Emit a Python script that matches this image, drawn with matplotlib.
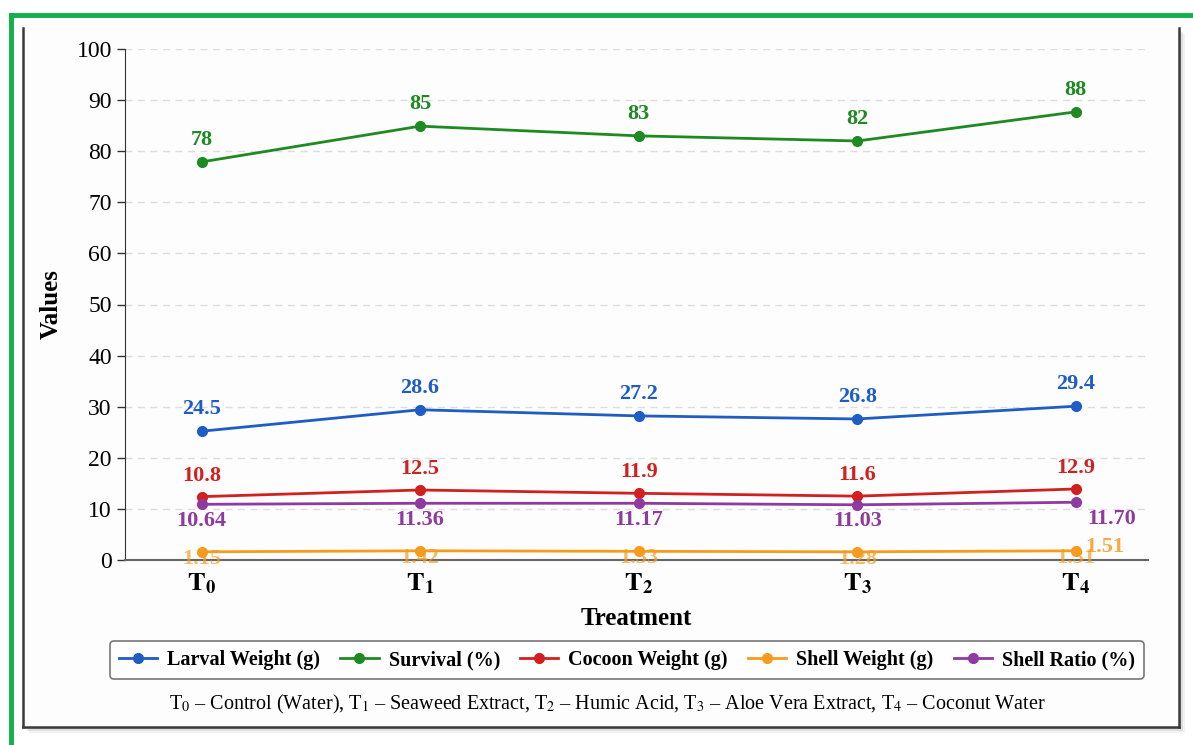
import matplotlib
matplotlib.use("Agg")
import matplotlib.pyplot as plt
from matplotlib.patches import Rectangle
from matplotlib.lines import Line2D
import numpy as np

plt.rcParams['font.family'] = ['Liberation Serif', 'DejaVu Serif']
plt.rcParams['mathtext.fontset'] = 'stix'

treatments = [r'$\mathbf{T}_\mathbf{0}$', r'$\mathbf{T}_\mathbf{1}$', r'$\mathbf{T}_\mathbf{2}$',
              r'$\mathbf{T}_\mathbf{3}$', r'$\mathbf{T}_\mathbf{4}$']

larval = [25.2, 29.4, 28.2, 27.6, 30.1]
survival = [77.9, 84.9, 83.0, 82.0, 87.7]
cocoon = [12.4, 13.7, 13.05, 12.5, 13.9]
shell_w = [1.6, 1.8, 1.7, 1.6, 1.8]
shell_r = [10.9, 11.1, 11.1, 10.8, 11.3]

larval_lbl = ['24.5', '28.6', '27.2', '26.8', '29.4']
survival_lbl = ['78', '85', '83', '82', '88']
cocoon_lbl = ['10.8', '12.5', '11.9', '11.6', '12.9']
shell_w_lbl = ['1.15', '1.42', '1.33', '1.28', '1.31']
shell_r_lbl = ['10.64', '11.36', '11.17', '11.03', '11.70']

series_names = ['Larval Weight (g)', 'Survival (%)', 'Cocoon Weight (g)', 'Shell Weight (g)', 'Shell Ratio (%)']
colors = ['#1f5cc4', '#1e8a22', '#d21f1f', '#f59c1e', '#8e3a9e']

W, H = 1193, 745
fig = plt.figure(figsize=(W / 100, H / 100), dpi=100)
fig.patch.set_facecolor('white')

def fx(px):
    return px / W

def fy(py):
    return 1 - py / H

# card shadow
for i, a in enumerate([0.05, 0.08, 0.12]):
    off = (6 - 2 * i)
    fig.patches.append(Rectangle((fx(23 + off), fy(727 + off)), (1179 - 23) / W, (727 - 28) / H,
                                 transform=fig.transFigure, facecolor='black', alpha=a,
                                 edgecolor='none', zorder=0.1))
fig.patches.append(Rectangle((fx(23), fy(727)), (1179 - 23) / W, (727 - 28) / H,
                             transform=fig.transFigure, facecolor='#fdfdfd',
                             edgecolor='none', zorder=0.2))
for xs, ys in [([23, 23], [28, 727]), ([1179, 1179], [28, 727]), ([23, 1179], [727, 727])]:
    fig.lines.append(Line2D([fx(v) for v in xs], [fy(v) for v in ys], transform=fig.transFigure,
                            color='#3a3a3a', linewidth=1.8, zorder=0.3))
# green frame (top and left)
fig.lines.append(Line2D([fx(11), fx(11)], [fy(15), 0], transform=fig.transFigure,
                        color='#12b04a', linewidth=3.5, zorder=0.4))
fig.lines.append(Line2D([fx(11), 1], [fy(15), fy(15)], transform=fig.transFigure,
                        color='#12b04a', linewidth=3.5, zorder=0.4))

ax = fig.add_axes([fx(125), fy(560), (1148 - 125) / W, (560 - 49) / H])
ax.set_zorder(2)
ax.set_facecolor('none')
x = np.arange(len(treatments))

all_vals = [larval, survival, cocoon, shell_w, shell_r]
for vals, name, c in zip(all_vals, series_names, colors):
    ax.plot(x, vals, color=c, marker='o', markersize=7, linewidth=2, label=name, zorder=3)

LFS = 16

def annotate(vals, labels, c, dy, dx=0, idx=None, ha='center'):
    for i, (v, t) in enumerate(zip(vals, labels)):
        if idx is not None and i not in idx:
            continue
        ax.annotate(t, (x[i], v), xytext=(dx, dy), textcoords='offset points', ha=ha, va='center',
                    color=c, fontsize=LFS, fontweight='bold', zorder=4)

annotate(larval, larval_lbl, colors[0], 16)
annotate(survival, survival_lbl, colors[1], 16)
annotate(cocoon, cocoon_lbl, colors[2], 15)
annotate(shell_r, shell_r_lbl, colors[4], -12, idx=[0, 1, 2, 3])
annotate(shell_r, shell_r_lbl, colors[4], -12, dx=26, idx=[4])
for i, (v, t) in enumerate(zip(shell_w, shell_w_lbl)):
    ax.annotate(t, (x[i], v), xytext=(0, -5), textcoords='offset points', ha='center', va='center',
                color=colors[3], fontsize=LFS, fontweight='bold', alpha=0.7, zorder=4)
ax.annotate('1.51', (x[4], shell_w[4]), xytext=(7, 3), textcoords='offset points', ha='left', va='center',
            color=colors[3], fontsize=LFS, fontweight='bold', alpha=0.85, zorder=4)

ax.set_xlim(-0.35, 4.33)
ax.set_ylim(0, 100)
ax.set_yticks(np.arange(0, 101, 10))
ax.set_xticks(x)
ax.set_xticklabels(treatments, fontsize=19)
ax.tick_params(axis='y', labelsize=17, length=6, width=1, color='#333333')
ax.tick_params(axis='x', length=0, pad=8)
ax.yaxis.grid(True, linestyle=(0, (5, 4)), color='#dddddd', linewidth=1)
ax.set_axisbelow(True)
for s in ['top', 'right']:
    ax.spines[s].set_visible(False)
ax.spines['left'].set_color('#333333')
ax.spines['bottom'].set_color('#666666')
ax.spines['bottom'].set_linewidth(1.5)

ax.set_ylabel('Values', fontsize=18, fontweight='bold', labelpad=10)
ax.set_xlabel('Treatment', fontsize=18, fontweight='bold', labelpad=8)

leg = fig.legend(loc='center', bbox_to_anchor=(fx(627), fy(660)), ncol=5,
                 prop={'weight': 'bold', 'size': 14.5}, frameon=True, fancybox=True,
                 edgecolor='#555555', handlelength=1.9, columnspacing=1.0, borderpad=0.45,
                 handletextpad=0.5)
leg.set_zorder(5)
leg.get_frame().set_linewidth(1.2)

t = fig.text(fx(607), fy(704),
             r'T$_0$ – Control (Water), T$_1$ – Seaweed Extract, T$_2$ – Humic Acid, T$_3$ – Aloe Vera Extract, T$_4$ – Coconut Water',
             ha='center', va='center', fontsize=14.5)
t.set_zorder(5)

fig.savefig('out.png', dpi=100, facecolor='white')
